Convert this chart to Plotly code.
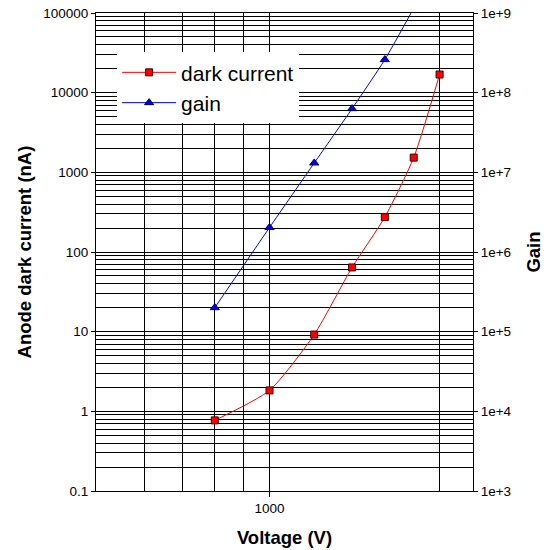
import plotly.graph_objects as go
import math

# ---- data ----
voltage_dc = [800, 1000, 1200, 1400, 1600, 1800, 2000]
dark_current_nA = [0.77, 1.83, 9.2, 64, 274, 1530, 16900]

voltage_gain = [800, 1000, 1200, 1400, 1600, 1800]
gain = [2.0e5, 2.03e6, 1.31e7, 6.3e7, 2.6e8, 1.15e9]

left_tick_vals = [0.1, 1, 10, 100, 1000, 10000, 100000]
left_tick_text = ["0.1", "1", "10", "100", "1000", "10000", "100000"]
right_tick_vals = [1e3, 1e4, 1e5, 1e6, 1e7, 1e8, 1e9]
right_tick_text = ["1e+3", "1e+4", "1e+5", "1e+6", "1e+7", "1e+8", "1e+9"]
x_major_ticks = [1000]
x_minor_ticks = [600, 700, 800, 900, 2000]

FONT = "Liberation Sans, Arial, sans-serif"

fig = go.Figure()
fig.add_trace(go.Scatter(
    x=voltage_dc, y=dark_current_nA, name="dark current",
    mode="lines+markers",
    line=dict(color="#FF0000", width=1, shape="spline", smoothing=0.6),
    marker=dict(symbol="square", size=7, color="#FF0000",
                line=dict(color="#400000", width=1)),
))
fig.add_trace(go.Scatter(
    x=voltage_gain, y=gain, name="gain", yaxis="y2",
    mode="lines+markers",
    line=dict(color="#0000FF", width=1, shape="spline", smoothing=0.6),
    marker=dict(symbol="triangle-up", size=8, color="#0000FF",
                line=dict(color="#000040", width=1)),
))

fig.update_layout(
    width=544, height=550,
    margin=dict(l=96, r=71, t=13, b=59, autoexpand=False),
    paper_bgcolor="white", plot_bgcolor="white",
    font=dict(family=FONT, color="black", size=13.5),
    showlegend=True,
    legend=dict(
        x=0.056, y=0.918, xanchor="left", yanchor="top",
        bgcolor="white", borderwidth=0,
        font=dict(size=21, family=FONT, color="black"),
        itemwidth=54, tracegroupgap=0,
    ),
    xaxis=dict(
        type="log", automargin=False,
        range=[math.log10(493), math.log10(2292)],
        tickmode="array", tickvals=x_major_ticks, ticktext=["1000"],
        ticks="outside", ticklen=5, tickcolor="black",
        showgrid=True, gridcolor="black", gridwidth=1,
        minor=dict(tickmode="array", tickvals=x_minor_ticks, showgrid=True,
                   gridcolor="black", gridwidth=1, ticks=""),
        showline=True, linecolor="black", linewidth=1, mirror=True,
        zeroline=False,
        title=dict(text="<b>Voltage (V)</b>", font=dict(size=18.5, family=FONT),
                   standoff=15),
        tickfont=dict(size=13.5),
    ),
    yaxis=dict(
        type="log", range=[-1, 5], automargin=False,
        tickmode="array", tickvals=left_tick_vals, ticktext=left_tick_text,
        ticks="outside", ticklen=4, tickcolor="black",
        showgrid=True, gridcolor="black", gridwidth=1,
        minor=dict(dtick="D1", showgrid=True, gridcolor="black", gridwidth=1, ticks=""),
        showline=True, linecolor="black", linewidth=1,
        zeroline=False,
        title=dict(text="<b>Anode dark current (nA)</b>", font=dict(size=18.5, family=FONT),
                   standoff=6),
        tickfont=dict(size=13.5),
    ),
    yaxis2=dict(
        type="log", range=[3, 9], overlaying="y", side="right", automargin=False,
        tickmode="array", tickvals=right_tick_vals, ticktext=right_tick_text,
        ticks="outside", ticklen=4, tickcolor="black",
        showgrid=False,
        showline=True, linecolor="black", linewidth=1,
        zeroline=False,
        title=dict(text="<b>Gain</b>", font=dict(size=18.5, family=FONT),
                   standoff=16),
        tickfont=dict(size=13.5),
    ),
)

fig.write_html("out.html")
